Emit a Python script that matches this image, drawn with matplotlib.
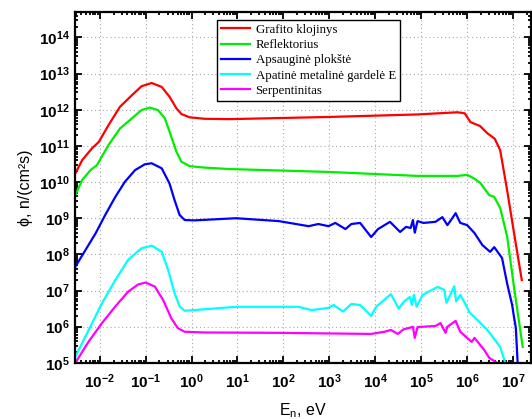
import numpy as np
import matplotlib
matplotlib.use('Agg')
import matplotlib.pyplot as plt
from matplotlib.ticker import LogLocator, FuncFormatter, NullFormatter

plt.rcParams['mathtext.fontset'] = 'custom'
plt.rcParams['mathtext.rm'] = 'Liberation Sans'
plt.rcParams['mathtext.bf'] = 'Liberation Sans:bold'
plt.rcParams['font.family'] = ['Liberation Sans', 'DejaVu Sans']

# duomenys (log10 reiksmes, nuskaitytos nuo grafiko)
grafitas_logE = [-2.53, -2.38, -2.17, -2.02, -1.81, -1.56, -1.30, -1.09, -0.87, -0.65,
                 -0.48, -0.33, -0.22, -0.04, 0.28, 0.82, 2.98, 4.92, 5.79, 5.95, 6.07,
                 6.28, 6.44, 6.6, 6.72, 6.87, 7.02, 7.19]
grafitas_logF = [10.24, 10.61, 10.93, 11.11, 11.57, 12.08, 12.40, 12.65, 12.74, 12.63,
                 12.36, 12.04, 11.88, 11.79, 11.75, 11.74, 11.8, 11.87, 11.93, 11.9, 11.66,
                 11.55, 11.35, 11.2, 10.88, 9.78, 8.6, 7.29]

reflekt_logE = [-2.53, -2.38, -2.2, -2.06, -1.81, -1.56, -1.30, -1.09, -0.91, -0.73,
                -0.58, -0.44, -0.33, -0.22, -0.04, 0.28, 0.82, 2.98, 4.92, 5.79, 6.0,
                6.15, 6.29, 6.48, 6.59, 6.72, 6.87, 7.02, 7.21]
reflekt_logF = [9.64, 10.06, 10.33, 10.47, 11.02, 11.48, 11.76, 11.99, 12.06, 11.99,
                11.76, 11.25, 10.84, 10.56, 10.44, 10.40, 10.36, 10.28, 10.17, 10.17, 10.2,
                10.1, 9.97, 9.64, 9.59, 9.28, 8.5, 7.1, 5.44]

plokste_logE = [-2.53, -2.31, -2.09, -1.88, -1.66, -1.45, -1.23, -1.02, -0.87, -0.65,
                -0.48, -0.37, -0.26, -0.15, 0.06, 0.97, 1.9, 2.55, 2.76, 2.98, 3.13,
                3.35, 3.48, 3.67, 3.91, 4.06, 4.32, 4.54, 4.67, 4.77, 4.82, 4.86, 4.92,
                5.05, 5.31, 5.46, 5.57, 5.65, 5.75, 5.85, 6.0, 6.16, 6.33, 6.5, 6.59,
                6.76, 6.87, 6.98, 7.02, 7.06, 7.1]
plokste_logF = [7.66, 8.12, 8.58, 9.09, 9.59, 10.01, 10.33, 10.49, 10.52, 10.38,
                9.96, 9.50, 9.09, 8.95, 8.94, 9.0, 8.92, 8.78, 8.84, 8.78, 8.87,
                8.7, 8.84, 8.87, 8.48, 8.7, 8.9, 8.62, 8.76, 8.73, 8.95, 8.6, 8.92,
                8.87, 8.9, 9.03, 8.81, 8.95, 9.14, 8.87, 8.81, 8.59, 8.26, 8.07, 8.2,
                7.9, 7.2, 6.6, 6.27, 5.97, 5.0]

gardele_logE = [-2.53, -2.24, -1.95, -1.66, -1.38, -1.09, -0.86, -0.65, -0.51, -0.37,
                -0.26, -0.15, 0.06, 0.97, 2.33, 2.61, 2.98, 3.09, 3.3, 3.48, 3.67, 3.91,
                4.02, 4.12, 4.34, 4.51, 4.62, 4.75, 4.8, 4.84, 4.9, 5.03, 5.36, 5.5,
                5.55, 5.72, 5.76, 5.85, 5.93, 6.05, 6.22, 6.44, 6.59, 6.72, 6.83]
gardele_logF = [5.17, 5.91, 6.65, 7.29, 7.85, 8.17, 8.24, 8.07, 7.57, 6.93,
                6.56, 6.44, 6.46, 6.55, 6.55, 6.46, 6.52, 6.6, 6.42, 6.63, 6.6, 6.3,
                6.55, 6.66, 6.9, 6.5, 6.69, 6.82, 6.6, 6.88, 6.55, 6.88, 7.1, 7.02,
                6.66, 7.12, 6.7, 6.88, 6.7, 6.4, 6.19, 5.91, 5.66, 5.44, 5.0]

serpent_logE = [-2.53, -2.24, -1.95, -1.66, -1.38, -1.16, -1.00, -0.80, -0.62, -0.44,
                -0.30, -0.15, 0.28, 1.9, 3.91, 4.2, 4.34, 4.49, 4.62, 4.75, 4.82, 4.86,
                4.92, 5.31, 5.42, 5.53, 5.57, 5.75, 5.85, 6.0, 6.1, 6.16, 6.37, 6.48, 6.65]
serpent_logF = [5.0, 5.59, 6.10, 6.56, 6.97, 7.17, 7.22, 7.11, 6.74, 6.23,
                5.96, 5.86, 5.84, 5.83, 5.8, 5.86, 5.91, 5.8, 5.93, 5.97, 6.0, 5.69,
                5.99, 6.02, 6.1, 5.83, 6.0, 6.16, 5.86, 5.69, 5.58, 5.69, 5.36, 5.14, 5.0]

serijos = [
    ('Grafito klojinys', grafitas_logE, grafitas_logF, '#ff0000'),
    ('Reflektorius', reflekt_logE, reflekt_logF, '#00ee00'),
    ('Apsauginė plokštė', plokste_logE, plokste_logF, '#0000ff'),
    ('Apatinė metalinė gardelė E', gardele_logE, gardele_logF, '#00ffff'),
    ('Serpentinitas', serpent_logE, serpent_logF, '#ff00ff'),
]

fig = plt.figure(figsize=(5.32, 4.19), dpi=100)
ax = fig.add_axes([0.141, 0.134, 0.857, 0.837])

for name, le, lf, c in serijos:
    ax.plot(10 ** np.array(le), 10 ** np.array(lf), color=c, lw=1.6, label=name)

ax.set_xscale('log')
ax.set_yscale('log')
ax.set_xlim(2.9e-3, 2.45e7)
ax.set_ylim(1e5, 5e14)

ax.xaxis.set_major_locator(LogLocator(base=10, numticks=30))
ax.yaxis.set_major_locator(LogLocator(base=10, numticks=30))
ax.xaxis.set_minor_locator(LogLocator(base=10, subs=np.arange(2, 10), numticks=30))
ax.yaxis.set_minor_locator(LogLocator(base=10, subs=np.arange(2, 10), numticks=30))
fmt = FuncFormatter(lambda v, p: r'$\mathbf{10^{%d}}$' % round(np.log10(v)))
ax.xaxis.set_major_formatter(fmt)
ax.yaxis.set_major_formatter(fmt)
ax.xaxis.set_minor_formatter(NullFormatter())
ax.yaxis.set_minor_formatter(NullFormatter())

ax.tick_params(which='both', direction='in', top=True, right=True, width=1.3, labelsize=11)
ax.tick_params(which='major', length=5)
ax.tick_params(axis='x', which='major', pad=7)
ax.tick_params(axis='y', which='major', pad=4)
ax.tick_params(which='minor', length=2.5)
for s in ax.spines.values():
    s.set_linewidth(1.6)

ax.grid(True, which='major', ls=(0, (1, 2.5)), color='#aaaaaa', lw=0.8)

ax.set_xlabel(r'E$_\mathrm{n}$, eV', fontsize=11.5, labelpad=7)
ax.set_ylabel('ϕ, n/(cm²s)', fontsize=11.5, labelpad=4)

leg = ax.legend(loc='upper left', bbox_to_anchor=(0.311, 0.978), prop={'family': 'Liberation Serif', 'size': 9.3},
                frameon=True, fancybox=False, edgecolor='black', framealpha=1,
                handlelength=2.3, handletextpad=0.4, labelspacing=0.25, borderpad=0.3, borderaxespad=0)
leg.get_frame().set_linewidth(1.0)

fig.savefig('out.png', dpi=100)
